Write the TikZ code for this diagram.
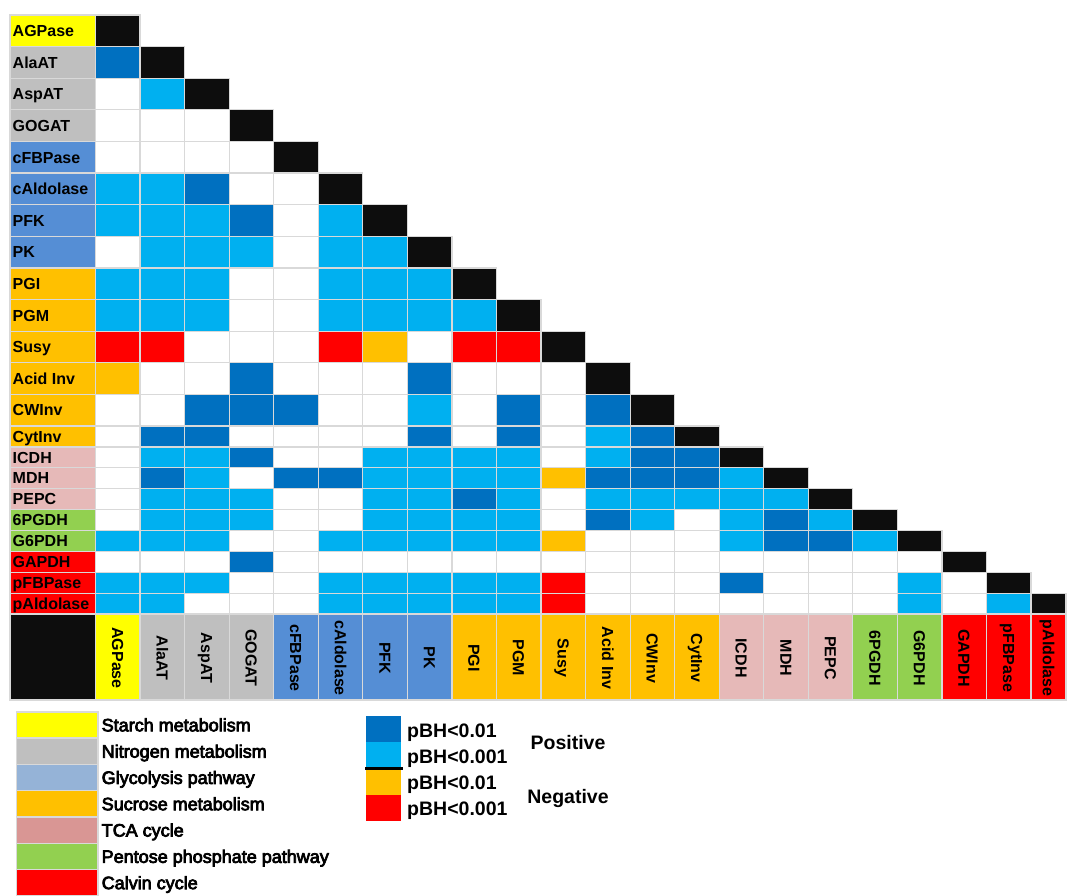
\documentclass[tikz,border=0pt]{standalone}
\usepackage{fontspec}
\setmainfont{Liberation Sans}
\newfontfamily\legendfont[FakeBold=4]{Liberation Sans}

% significance colours
\definecolor{dk}{HTML}{0070C0}
\definecolor{lt}{HTML}{00B0F0}
\definecolor{or}{HTML}{FFC000}
\definecolor{rd}{HTML}{FF0000}
\definecolor{wh}{HTML}{FFFFFF}
\definecolor{bk}{HTML}{0D0D0D}
% pathway colours
\definecolor{grpyel}{HTML}{FFFF00}
\definecolor{grpgray}{HTML}{BFBFBF}
\definecolor{grpblue}{HTML}{558ED5}
\definecolor{grppink}{HTML}{E6B9B8}
\definecolor{grpgreen}{HTML}{92D050}
\definecolor{keyblue}{HTML}{95B3D7}
\definecolor{keypink}{HTML}{D99694}
\definecolor{gridgray}{HTML}{D9D9D9}

\begin{document}
\begin{tikzpicture}[
    x=1pt, y=-1pt,
    cell/.style={draw=gridgray, line width=1.2pt},
    rowlab/.style={anchor=west, inner sep=0pt, font=\bfseries\fontsize{16}{18}\selectfont, text height=11.5pt, text depth=0pt},
    collab/.style={rotate=-90, inner sep=0pt, font=\bfseries\fontsize{16}{18}\selectfont, text height=11.5pt, text depth=0pt},
    keytext/.style={anchor=west, inner sep=0pt, font=\legendfont\fontsize{18}{20}\selectfont, text height=12.9pt, text depth=0pt},
    sigtext/.style={anchor=west, inner sep=0pt, font=\bfseries\fontsize{19.5}{22}\selectfont, text height=14pt, text depth=0pt}
]
\useasboundingbox (0,0) rectangle (1067,895);

% Labels, diagonal and bottom row
\foreach \name/\grp [count=\i] in {AGPase/grpyel, AlaAT/grpgray, AspAT/grpgray, GOGAT/grpgray,
    cFBPase/grpblue, cAldolase/grpblue, PFK/grpblue, PK/grpblue, PGI/or, PGM/or, Susy/or,
    Acid Inv/or, CWInv/or, CytInv/or, ICDH/grppink, MDH/grppink, PEPC/grppink,
    6PGDH/grpgreen, G6PDH/grpgreen, GAPDH/rd, pFBPase/rd, pAldolase/rd} {
    \pgfmathsetmacro\yt{\i<14 ? 15+31.615*(\i-1) : 426+20.89*(\i-14)}
    \pgfmathsetmacro\yb{\i<13 ? 15+31.615*\i : 426+20.89*(\i-13)}
    \pgfmathsetmacro\xl{95.5+44.55*(\i-1)}
    \pgfmathsetmacro\xr{min(\xl+44.55,1066)}
    % row label
    \path[cell, fill=\grp] (10,\yt) rectangle (95.5,\yb);
    \node[rowlab] (row\i) at (12.5,{(\yt+\yb)/2}) {\name};
    % diagonal
    \path[cell, fill=bk] (\xl,\yt) rectangle (\xr,\yb);
    % column label
    \path[cell, fill=\grp] (\xl,614) rectangle (\xr,700);
    \node[collab] (col\i) at ({(\xl+\xr)/2},658) {\name};
}
\path[cell, fill=bk] (10,614) rectangle (95.5,700);

% Correlation cells
\foreach \cells [count=\r from 2] in {
    {dk},
    {wh,lt},
    {wh,wh,wh},
    {wh,wh,wh,wh},
    {lt,lt,dk,wh,wh},
    {lt,lt,lt,dk,wh,lt},
    {wh,lt,lt,lt,wh,lt,lt},
    {lt,lt,lt,wh,wh,lt,lt,lt},
    {lt,lt,lt,wh,wh,lt,lt,lt,lt},
    {rd,rd,wh,wh,wh,rd,or,wh,rd,rd},
    {or,wh,wh,dk,wh,wh,wh,dk,wh,wh,wh},
    {wh,wh,dk,dk,dk,wh,wh,lt,wh,dk,wh,dk},
    {wh,dk,dk,wh,wh,wh,wh,dk,wh,dk,wh,lt,dk},
    {wh,lt,lt,dk,wh,wh,lt,lt,lt,lt,wh,lt,dk,dk},
    {wh,dk,lt,wh,dk,dk,lt,lt,lt,lt,or,dk,dk,dk,lt},
    {wh,lt,lt,lt,wh,wh,lt,lt,dk,lt,wh,lt,lt,lt,lt,lt},
    {wh,lt,lt,lt,wh,wh,lt,lt,lt,lt,wh,dk,lt,wh,lt,dk,lt},
    {lt,lt,lt,wh,wh,lt,lt,lt,lt,lt,or,wh,wh,wh,lt,dk,dk,lt},
    {wh,wh,wh,dk,wh,wh,wh,wh,wh,wh,wh,wh,wh,wh,wh,wh,wh,wh,wh},
    {lt,lt,lt,wh,wh,lt,lt,lt,lt,lt,rd,wh,wh,wh,dk,wh,wh,wh,lt,wh},
    {lt,lt,wh,wh,wh,lt,lt,lt,lt,lt,rd,wh,wh,wh,wh,wh,wh,wh,lt,wh,lt}} {
    \pgfmathsetmacro\yt{\r<14 ? 15+31.615*(\r-1) : 426+20.89*(\r-14)}
    \pgfmathsetmacro\yb{\r<13 ? 15+31.615*\r : 426+20.89*(\r-13)}
    \foreach \c [count=\j] in \cells {
        \pgfmathsetmacro\xl{95.5+44.55*(\j-1)}
        \path[cell, fill=\c] (\xl,\yt) rectangle ({\xl+44.55},\yb);
    }
}

% Pathway legend
\fill[gridgray] (15.5,710.5) rectangle (98.5,897);
\foreach \grp/\txt [count=\k] in {grpyel/Starch metabolism, grpgray/Nitrogen metabolism,
    keyblue/Glycolysis pathway, or/Sucrose metabolism, keypink/TCA cycle,
    grpgreen/Pentose phosphate pathway, rd/Calvin cycle} {
    \pgfmathsetmacro\yk{712.5+26.3*(\k-1)}
    \fill[fill=\grp] (17,\yk) rectangle (97,{\yk+24.8});
    \node[keytext] (key\k) at (101.5,{\yk+12.4}) {\txt};
}

% Significance legend
\foreach \c/\txt [count=\k] in {dk/pBH<0.01, lt/pBH<0.001, or/pBH<0.01, rd/pBH<0.001} {
    \pgfmathsetmacro\yk{716+26.2*(\k-1)}
    \fill[fill=\c] (366,\yk) rectangle (401,{\yk+26.2});
    \node[sigtext] (sig\k) at (407,{\yk+14}) {\txt};
}
\draw[line width=2.5pt] (365,768.5) -- (403,768.5);
\node[sigtext, anchor=center] (pos) at (568,742.5) {Positive};
\node[sigtext, anchor=center] (neg) at (568,796) {Negative};
\end{tikzpicture}
\end{document}
